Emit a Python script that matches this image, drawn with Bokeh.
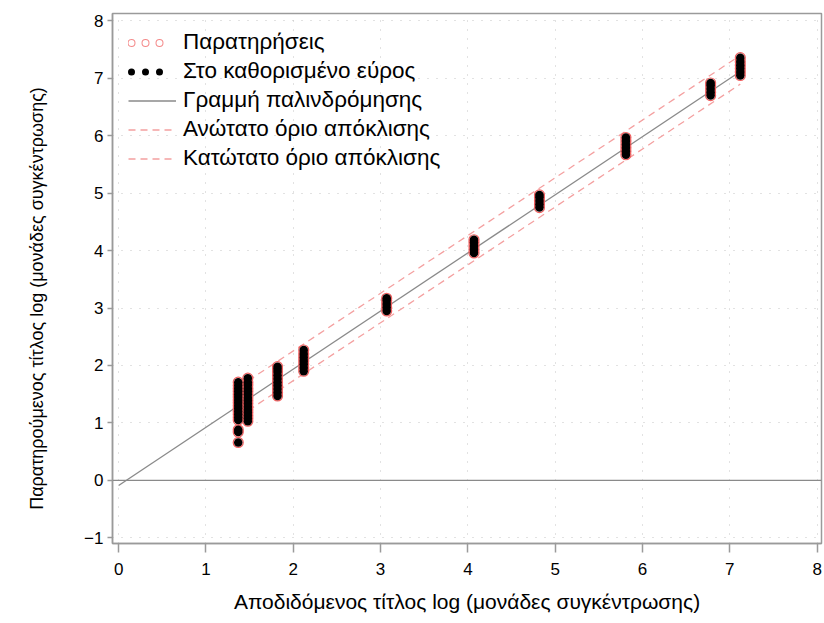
from bokeh.plotting import figure
from bokeh.models import Legend, LegendItem, Span, FixedTicker
from bokeh.embed import file_html
from bokeh.resources import INLINE

# ---- data ----
x_groups = [1.37, 1.48, 1.82, 2.12, 3.07, 4.07, 4.82, 5.81, 6.78, 7.12]
y_groups = [
    [0.66, 0.84, 0.88, 1.05, 1.10, 1.15, 1.20, 1.25, 1.30, 1.35, 1.40, 1.45, 1.50, 1.55, 1.60, 1.65, 1.71],
    [1.03, 1.08, 1.13, 1.18, 1.23, 1.28, 1.34, 1.39, 1.44, 1.50, 1.55, 1.60, 1.66, 1.71, 1.78],
    [1.47, 1.53, 1.59, 1.65, 1.71, 1.77, 1.83, 1.89, 1.94, 1.98],
    [1.90, 1.96, 2.02, 2.08, 2.14, 2.20, 2.27],
    [2.95, 3.01, 3.07, 3.13, 3.17],
    [3.96, 4.02, 4.08, 4.14, 4.19],
    [4.75, 4.81, 4.87, 4.93, 4.97],
    [5.67, 5.73, 5.79, 5.85, 5.91, 5.97],
    [6.70, 6.76, 6.82, 6.88, 6.92],
    [7.05, 7.11, 7.17, 7.23, 7.29, 7.36],
]
reg_x = [0.0, 7.12]
reg_y = [-0.09, 7.12]
limit_x = [1.37, 7.12]
upper_y = [1.62, 7.40]
lower_y = [1.10, 6.90]
x_ticks = [0, 1, 2, 3, 4, 5, 6, 7, 8]
y_ticks = [-1, 0, 1, 2, 3, 4, 5, 6, 7, 8]
y_tick_labels = {-1: "\u22121"}
labels = ["Παρατηρήσεις", "Στο καθορισμένο εύρος", "Γραμμή παλινδρόμησης",
          "Ανώτατο όριο απόκλισης", "Κατώτατο όριο απόκλισης"]
x_title = "Αποδιδόμενος τίτλος log (μονάδες συγκέντρωσης)"
y_title = "Παρατηρούμενος τίτλος log (μονάδες συγκέντρωσης)"

pts_x = [x for x, ys in zip(x_groups, y_groups) for _ in ys]
pts_y = [y for ys in y_groups for y in ys]
nan = float("nan")

FONT = "Liberation Sans"
GREY = "#9a9a9a"

p = figure(width=824, height=623, x_range=(-0.07, 8.05), y_range=(-1.1, 8.13),
           output_backend="svg", toolbar_location=None,
           min_border_left=112, min_border_right=3, min_border_top=13, min_border_bottom=80)
p.background_fill_color = "white"
p.border_fill_color = "white"
p.outline_line_color = GREY
p.outline_line_width = 1.5

# axes
for ax, ticks in ((p.xaxis, x_ticks), (p.yaxis, y_ticks)):
    ax.ticker = FixedTicker(ticks=ticks)
    ax.axis_line_color = GREY
    ax.axis_line_width = 1.5
    ax.major_tick_line_color = GREY
    ax.major_tick_line_width = 1.5
    ax.major_tick_in = 0
    ax.minor_tick_line_color = None
    ax.major_label_text_font = FONT
    ax.major_label_text_font_size = "17px"
    ax.major_label_text_color = "black"
    ax.axis_label_text_font = FONT
    ax.axis_label_text_font_style = "normal"
    ax.axis_label_text_color = "black"
p.xaxis.major_tick_out = 9
p.xaxis.major_label_standoff = 10
p.xaxis.axis_label = x_title
p.xaxis.axis_label_text_font_size = "21px"
p.xaxis.axis_label_standoff = 12
p.yaxis.major_tick_out = 5
p.yaxis.major_label_standoff = 4
p.yaxis.major_label_overrides = y_tick_labels
# trailing no-break spaces move the visible title a little below the frame centre
p.yaxis.axis_label = y_title + "\u00a0" * 8
p.yaxis.axis_label_text_font_size = "18px"
p.yaxis.axis_label_standoff = 34

# grid
p.xgrid.ticker = FixedTicker(ticks=x_ticks)
p.ygrid.ticker = FixedTicker(ticks=y_ticks)
for g in (p.xgrid, p.ygrid):
    g.grid_line_color = "#c4c4c4"
    g.grid_line_dash = "1 8"
    g.grid_line_width = 1

# zero line
p.add_layout(Span(location=0, dimension="width", line_color="#8a8a8a", line_width=1.3))

# limits and regression
RED_DASH = "#f4a0a0"
upper_r = p.line(limit_x, upper_y, line_color=RED_DASH, line_width=1.3, line_dash="7 5")
lower_r = p.line(limit_x, lower_y, line_color=RED_DASH, line_width=1.3, line_dash="7 5")
reg_r = p.line(reg_x, reg_y, line_color="#8a8a8a", line_width=1.3)

# points
p.scatter(pts_x, pts_y, size=10, marker="circle", fill_color=None, line_color="#f06060", line_width=1.2)
p.scatter(pts_x, pts_y, size=8.5, marker="circle", fill_color="black", line_color=None)

# legend-only glyphs (three dots each), no visible data
dots = "0 14 0 14 0 20"
leg_red = p.line([nan], [nan], line_color="#f48a8a", line_width=8, line_cap="round",
                 line_dash=dots, line_dash_offset=45)
leg_white = p.line([nan], [nan], line_color="white", line_width=6, line_cap="round",
                   line_dash=dots, line_dash_offset=45)
leg_black = p.line([nan], [nan], line_color="black", line_width=7, line_cap="round",
                   line_dash=dots, line_dash_offset=45)

legend = Legend(items=[
    LegendItem(label=labels[0], renderers=[leg_red, leg_white]),
    LegendItem(label=labels[1], renderers=[leg_black]),
    LegendItem(label=labels[2], renderers=[reg_r]),
    LegendItem(label=labels[3], renderers=[upper_r]),
    LegendItem(label=labels[4], renderers=[lower_r]),
], location="top_left")
legend.border_line_color = None
legend.background_fill_alpha = 0
legend.margin = 16
legend.padding = 6
legend.glyph_width = 48
legend.glyph_height = 25
legend.label_height = 25
legend.spacing = 3
legend.label_standoff = 7
legend.label_text_font = FONT
legend.label_text_font_size = "22.5px"
legend.label_text_color = "black"
p.add_layout(legend)

open("out.html", "w").write(file_html(p, INLINE))
